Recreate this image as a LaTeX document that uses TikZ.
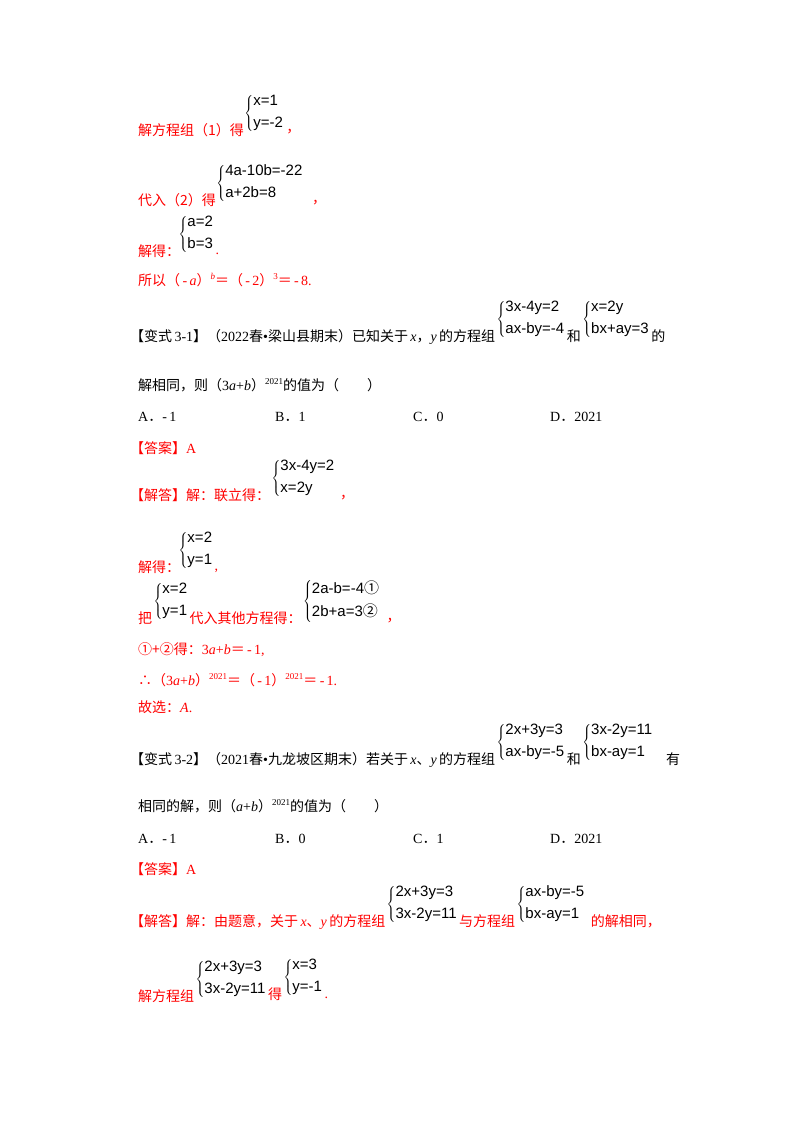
\documentclass[tikz,border=0pt]{standalone}
\usepackage{fontspec}
\usetikzlibrary{calc}
\setmainfont{Liberation Serif}
\newfontfamily\cjk{Noto Sans CJK SC}
\newfontfamily\eqf{Liberation Sans}
\newcommand\C[1]{{\cjk #1}}
\newcommand\I[1]{\textit{#1}}
\newcommand\sys[2]{$\left\{\rule[-14pt]{0pt}{34pt}\begin{tabular}{@{}l@{}}\eqf #1\\[6pt]\eqf #2\end{tabular}\right.$}
\newcommand\ex[1]{\raisebox{6pt}{\fontsize{9}{9}\selectfont #1}}
\begin{document}
\begin{tikzpicture}[x=1pt,y=-1pt,
  t/.style={anchor=base west,inner sep=0pt,font=\fontsize{14}{16}\selectfont},
  r/.style={t,text=red},
  s/.style={anchor=west,inner sep=0pt,font=\fontsize{15}{16}\selectfont}]
\useasboundingbox[fill=white] (0,0) rectangle (800,1132);
\def\up{-22}
% block 1
\node[r] (a1) at (138,135) {\C{解方程组（1）得}};
\node[s] (a2) at ($(a1.base east)+(0,\up)$) {\sys{x=1}{y=-2}};
\node[r] (a3) at ($(a2.east |- a1.base)+(2,-3)$) {\C{，}};
\node[r] (b1) at (138,205) {\C{代入（2）得}};
\node[s] (b2) at ($(b1.base east)+(0,\up)$) {\sys{4a-10b=-22}{a+2b=8}};
\node[r] (b3) at (312,203) {\C{，}};
\node[r] (c1) at (138,256) {\C{解得：}};
\node[s] (c2) at ($(c1.base east)+(-2,\up)$) {\sys{a=2}{b=3}};
\node[r] (c3) at ($(c2.east |- c1.base)+(1,-2)$) {.};
\node[r] (d1) at (138,285) {\C{所以（}\,-\,\I{a}\C{）}\ex{\I{b}}\C{＝（}\,-\,2\C{）}\ex{3}\C{＝}\,-\,8.};
% 3-1
\node[t] (e1) at (130,341) {\C{【变式}\,3-1\C{】（}2022\C{春}•\C{梁山县期末）已知关于}\,\I{x}\C{，}\I{y}\,\C{的方程组}};
\node[s] (e2) at ($(e1.base east)+(1,\up)$) {\sys{3x-4y=2}{ax-by=-4}};
\node[t] (e3) at ($(e2.east |- e1.base)+(1,0)$) {\C{和}};
\node[s] (e4) at ($(e3.base east)+(1,\up)$) {\sys{x=2y}{bx+ay=3}};
\node[t] (e5) at ($(e4.east |- e1.base)+(1,0)$) {\C{的}};
\node[t] (f1) at (138,390) {\C{解相同，则（}3\I{a}+\I{b}\C{）}\ex{2021}\C{的值为（　　）}};
\node[t] (g1) at (138,421) {A\C{．}-\,1};
\node[t] (g2) at (275,421) {B\C{．}1};
\node[t] (g3) at (413,421) {C\C{．}0};
\node[t] (g4) at (550,421) {D\C{．}2021};
\node[r] (h1) at (130,453) {\C{【答案】}A};
\node[r] (i1) at (130,500) {\C{【解答】解：联立得：}};
\node[s] (i2) at ($(i1.base east)+(1,\up)$) {\sys{3x-4y=2}{x=2y}};
\node[r] (i3) at (340,498) {\C{，}};
\node[r] (j1) at (138,572) {\C{解得：}};
\node[s] (j2) at ($(j1.base east)+(-2,\up)$) {\sys{x=2}{y=1}};
\node[r] (j3) at ($(j2.east |- j1.base)+(1,-2)$) {,};
\node[r] (k1) at (138,623) {\C{把}};
\node[s] (k2) at ($(k1.base east)+(1,\up)$) {\sys{x=2}{y=1}};
\node[r] (k3) at ($(k2.east |- k1.base)+(1,0)$) {\C{代入其他方程得：}};
\node[s] (k4) at ($(k3.base east)+(1,\up)$) {\sys{2a-b=-4\C{①}}{2b+a=3\C{②}}};
\node[r] (k5) at ($(k4.east |- k1.base)+(6,-2)$) {\C{，}};
\node[r] (l1) at (138,654) {\C{①+②得：}3\I{a}+\I{b}\C{＝}\,-\,1,};
\node[r] (m1) at (138,685) {\C{∴（}3\I{a}+\I{b}\C{）}\ex{2021}\C{＝（}\,-\,1\C{）}\ex{2021}\C{＝}\,-\,1.};
\node[r] (n1) at (138,712) {\C{故选：}\I{A}.};
% 3-2
\node[t] (o1) at (130,764) {\C{【变式}\,3-2\C{】（}2021\C{春}•\C{九龙坡区期末）若关于}\,\I{x}\C{、}\I{y}\,\C{的方程组}};
\node[s] (o2) at ($(o1.base east)+(1,\up)$) {\sys{2x+3y=3}{ax-by=-5}};
\node[t] (o3) at ($(o2.east |- o1.base)+(1,0)$) {\C{和}};
\node[s] (o4) at ($(o3.base east)+(1,\up)$) {\sys{3x-2y=11}{bx-ay=1}};
\node[t] (o5) at (666,764) {\C{有}};
\node[t] (p1) at (138,811) {\C{相同的解，则（}\I{a}+\I{b}\C{）}\ex{2021}\C{的值为（　　）}};
\node[t] (q1) at (138,843) {A\C{．}-\,1};
\node[t] (q2) at (275,843) {B\C{．}0};
\node[t] (q3) at (413,843) {C\C{．}1};
\node[t] (q4) at (550,843) {D\C{．}2021};
\node[r] (r1) at (130,874) {\C{【答案】}A};
\node[r] (s1) at (130,926) {\C{【解答】解：由题意，关于}\,\I{x}\C{、}\I{y}\,\C{的方程组}};
\node[s] (s2) at ($(s1.base east)+(1,\up)$) {\sys{2x+3y=3}{3x-2y=11}};
\node[r] (s3) at ($(s2.east |- s1.base)+(1,0)$) {\C{与方程组}};
\node[s] (s4) at ($(s3.base east)+(1,\up)$) {\sys{ax-by=-5}{bx-ay=1}};
\node[r] (s5) at ($(s4.east |- s1.base)+(5,0)$) {\C{的解相同，}};
\node[r] (u1) at (138,1001) {\C{解方程组}};
\node[s] (u2) at ($(u1.base east)+(1,\up)$) {\sys{2x+3y=3}{3x-2y=11}};
\node[r] (u3) at ($(u2.east |- u1.base)+(1,-2)$) {\C{得}};
\node[s] (u4) at ($(u3.base east)+(1,\up)$) {\sys{x=3}{y=-1}};
\node[r] (u5) at ($(u4.east |- u1.base)+(1,-3)$) {.};
\end{tikzpicture}
\end{document}
